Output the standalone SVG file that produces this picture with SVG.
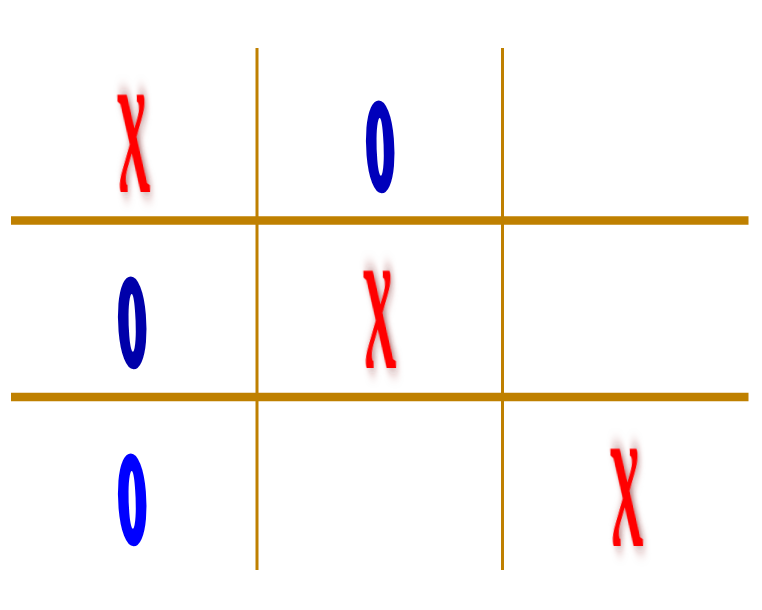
<svg xmlns="http://www.w3.org/2000/svg" width="762" height="610" viewBox="0 0 762 610">
  <style>
    .grid { stroke: #bf8000; fill: none; }
    .h { stroke-width: 8.5; }
    .v { stroke-width: 3; }
    .x { font-family: "Liberation Serif", serif; font-weight: bold; font-style: italic; font-size: 64px; fill: #ff0000; text-anchor: middle; }
    .o { font-family: "Liberation Serif", serif; font-weight: bold; font-style: italic; font-size: 57px; text-anchor: middle; stroke-width: 3; stroke-linejoin: round; }
  </style>
  <defs>
    <filter id="shadow" x="-50%" y="-20%" width="200%" height="140%">
      <feGaussianBlur in="SourceAlpha" stdDeviation="2.5" result="b"/>
      <feOffset in="b" dx="2" dy="0" result="o"/>
      <feFlood flood-color="#802020" flood-opacity="0.6"/>
      <feComposite in2="o" operator="in" result="s"/>
      <feMerge><feMergeNode in="s"/><feMergeNode in="SourceGraphic"/></feMerge>
    </filter>
  </defs>
  <rect width="762" height="610" fill="#ffffff"/>
  <g id="grid">
    <line class="grid v" x1="257" y1="48" x2="257" y2="570"/>
    <line class="grid v" x1="502.5" y1="48" x2="502.5" y2="570"/>
    <line class="grid h" x1="11" y1="220.5" x2="748.5" y2="220.5"/>
    <line class="grid h" x1="11" y1="397" x2="748.5" y2="397"/>
  </g>
  <g id="cell-0-0"><text class="x" filter="url(#shadow)" transform="translate(137,192) scale(1,3.3) skewX(14)">x</text></g>
  <g id="cell-0-1"><text class="o" fill="#0000bb" stroke="#0000bb" transform="translate(384,186.5) scale(1,3.05) skewX(14)">o</text></g>
  <g id="cell-1-0"><text class="o" fill="#0000aa" stroke="#0000aa" transform="translate(136,362.5) scale(1,3.05) skewX(14)">o</text></g>
  <g id="cell-1-1"><text class="x" filter="url(#shadow)" transform="translate(383,368) scale(1,3.3) skewX(14)">x</text></g>
  <g id="cell-2-0"><text class="o" fill="#0000ff" stroke="#0000ff" transform="translate(136,539.5) scale(1,3.05) skewX(14)">o</text></g>
  <g id="cell-2-2"><text class="x" filter="url(#shadow)" transform="translate(630,546) scale(1,3.3) skewX(14)">x</text></g>
</svg>
